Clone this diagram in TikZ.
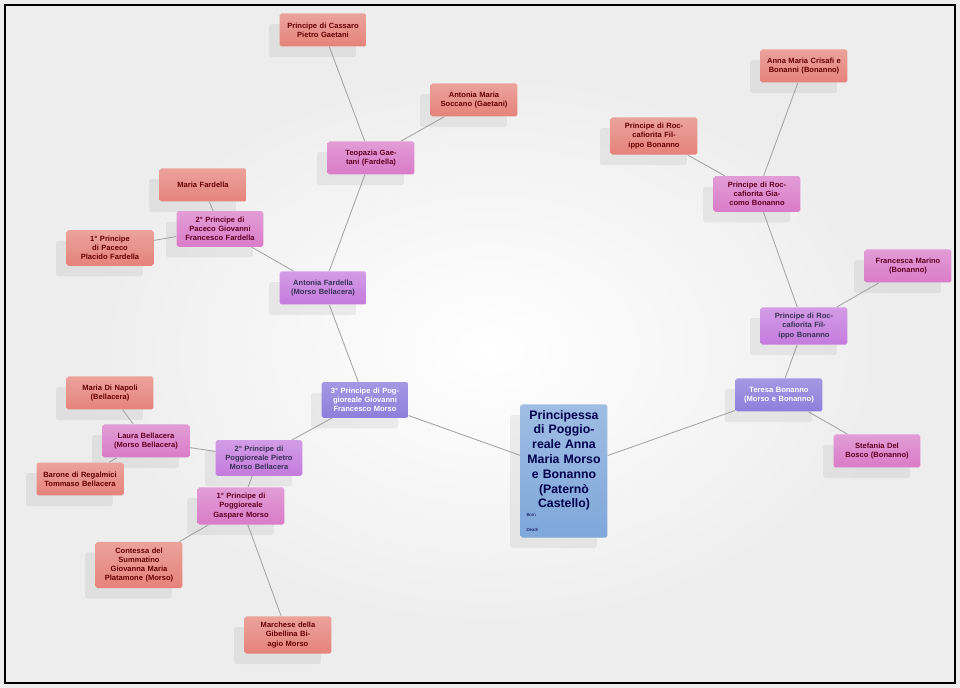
\documentclass[tikz,border=0pt]{standalone}
\usepackage{fontspec}
\setsansfont{Liberation Sans}
\usetikzlibrary{shadows, backgrounds}
\definecolor{salmon}{HTML}{E5837A}
\definecolor{pinkish}{HTML}{D97CC8}
\definecolor{orchid}{HTML}{C47BDD}
\definecolor{violet}{HTML}{8E7EDC}
\definecolor{skyblue}{HTML}{7FA7DA}
\tikzstyle{person} = [rectangle, rounded corners=1pt,
minimum width=1.62cm,
minimum height=0.66cm,
text width=1.5cm,
align=center,
font=\sffamily\bfseries\fontsize{4.3}{5.2}\selectfont,
drop shadow={shadow xshift=-6pt, shadow yshift=-6pt, opacity=0.12}]
\tikzstyle{anc} = [person, top color=salmon!75, bottom color=salmon, text=red!40!black]
\tikzstyle{par} = [person, top color=pinkish!75, bottom color=pinkish, text=purple!50!black]
\tikzstyle{gpar} = [person, top color=orchid!75, bottom color=orchid, text=violet!40!black]
\tikzstyle{kin} = [person, top color=violet!80, bottom color=violet, text=white]
\tikzstyle{link} = [gray!70, line width=0.5pt]

\begin{document}
\begin{tikzpicture}[x=0.02cm, y=-0.02cm]

% father's side
\node (cassaro) [anc] at (323,30) {Principe di Cassaro Pietro Gaetani};
\node (soccano) [anc] at (474,100) {Antonia Maria Soccano (Gaetani)};
\node (teopazia) [par] at (371,158) {Teopazia Gaetani (Fardella)};
\node (mfardella) [anc] at (203,185) {Maria Fardella};
\node (pacecoII) [par] at (220,229) {2° Principe di Paceco Giovanni Francesco Fardella};
\node (pacecoI) [anc] at (110,248) {1° Principe di Paceco Placido Fardella};
\node (antonia) [gpar] at (323,288) {Antonia Fardella (Morso Bellacera)};
\node (gfm) [kin] at (365,400) {3° Principe di Poggioreale Giovanni Francesco Morso};
\node (dinapoli) [anc] at (110,393) {Maria Di Napoli (Bellacera)};
\node (laura) [par] at (146,441) {Laura Bellacera (Morso Bellacera)};
\node (barone) [anc] at (80,479) {Barone di Regalmici Tommaso Bellacera};
\node (pietro) [gpar] at (259,458) {2° Principe di Poggioreale Pietro Morso Bellacera};
\node (gaspare) [par] at (241,506) {1° Principe di Poggioreale Gaspare Morso};
\node (contessa) [anc, minimum height=0.76cm] at (139,565) {Contessa del Summatino Giovanna Maria Platamone (Morso)};
\node (marchese) [anc] at (288,635) {Marchese della Gibellina Biagio Morso};

% the princess
\node (anna) [person, minimum width=1.64cm, minimum height=1.7cm, text width=1.5cm,
  top color=skyblue!75, bottom color=skyblue, text=blue!30!black,
  font=\sffamily\bfseries\fontsize{7}{8.4}\selectfont] at (564,471)
  {Principessa di Poggioreale Anna Maria Morso e Bonanno (Paternò Castello)\\[1pt]
  {\fontsize{2.5}{3}\selectfont\mdseries Born\hfill\null\\ Death\hfill\null}};

% mother's side
\node (teresa) [kin] at (779,395) {Teresa Bonanno (Morso e Bonanno)};
\node (stefania) [par] at (877,451) {Stefania Del Bosco (Bonanno)};
\node (filippoII) [gpar] at (804,326) {Principe di Roccafiorita Filippo Bonanno};
\node (francesca) [par] at (908,266) {Francesca Marino (Bonanno)};
\node (giacomo) [par] at (757,194) {Principe di Roccafiorita Giacomo Bonanno};
\node (filippoI) [anc] at (654,136) {Principe di Roccafiorita Filippo Bonanno};
\node (crisafi) [anc] at (804,66) {Anna Maria Crisafi e Bonanni (Bonanno)};

\begin{pgfonlayer}{background}
% background and frame
\fill[gray!14] (0,0) rectangle (960,688);
\shade[inner color=white, outer color=gray!14] (80,60) rectangle (900,640);
\draw[line width=1.5pt] (5,5) rectangle (955,683);
\draw [link] (cassaro) -- (teopazia);
\draw [link] (soccano) -- (teopazia);
\draw [link] (teopazia) -- (antonia);
\draw [link] (mfardella) -- (pacecoII);
\draw [link] (pacecoI) -- (pacecoII);
\draw [link] (pacecoII) -- (antonia);
\draw [link] (antonia) -- (gfm);
\draw [link] (gfm) -- (anna);
\draw [link] (gfm) -- (pietro);
\draw [link] (dinapoli) -- (laura);
\draw [link] (barone) -- (laura);
\draw [link] (laura) -- (pietro);
\draw [link] (pietro) -- (gaspare);
\draw [link] (contessa) -- (gaspare);
\draw [link] (marchese) -- (gaspare);
\draw [link] (anna) -- (teresa);
\draw [link] (teresa) -- (stefania);
\draw [link] (teresa) -- (filippoII);
\draw [link] (filippoII) -- (francesca);
\draw [link] (filippoII) -- (giacomo);
\draw [link] (giacomo) -- (filippoI);
\draw [link] (giacomo) -- (crisafi);
\end{pgfonlayer}

\end{tikzpicture}
\end{document}
